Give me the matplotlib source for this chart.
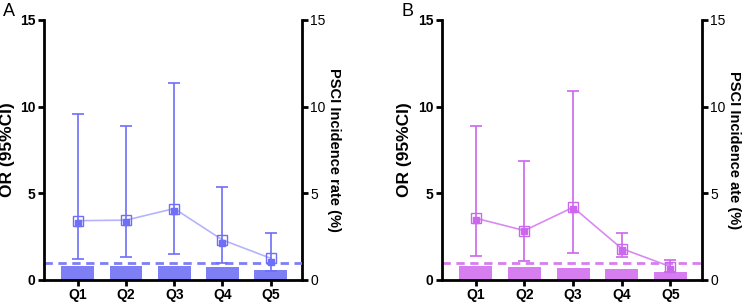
import matplotlib
matplotlib.use('Agg')
import matplotlib.pyplot as plt
import numpy as np

plt.rcParams['font.family'] = ['Liberation Sans', 'DejaVu Sans']

categories = ['Q1', 'Q2', 'Q3', 'Q4', 'Q5']

# panel A
a_or_open = [3.42, 3.45, 4.12, 2.31, 1.25]
a_or_fill = [3.30, 3.35, 4.00, 2.15, 1.06]
a_ci_low = [1.23, 1.31, 1.48, 0.96, 0.54]
a_ci_high = [9.58, 8.88, 11.38, 5.38, 2.69]
a_rate = [0.83, 0.83, 0.82, 0.73, 0.60]

# panel B
b_or_open = [3.56, 2.85, 4.19, 1.81, 0.77]
b_or_fill = [3.46, 2.80, 4.08, 1.70, 0.63]
b_ci_low = [1.40, 1.11, 1.56, 1.33, 0.48]
b_ci_high = [8.87, 6.88, 10.90, 2.69, 1.17]
b_rate = [0.79, 0.77, 0.71, 0.63, 0.46]


def draw_panel(rect, letter, letter_x, or_open, or_fill, lo, hi, rate, col, col_light, col_bar, right_label):
    ax = fig.add_axes(rect)
    x = np.arange(len(categories))
    ax2 = ax.twinx()
    ax2.bar(x, rate, width=0.68, color=col_bar, zorder=1)
    ax2.set_ylim(0, 15)
    ax2.set_yticks([0, 5, 10, 15])
    ax.set_zorder(ax2.get_zorder() + 1)
    ax.patch.set_visible(False)

    ax.axhline(1, color=col_bar, lw=2, ls=(0, (3, 2)), zorder=2)
    ax.plot(x, or_open, color=col_light, lw=1.2, zorder=3)
    yerr = [np.array(or_fill) - np.array(lo), np.array(hi) - np.array(or_fill)]
    ax.errorbar(x, or_fill, yerr=yerr, fmt='none', ecolor=col, elinewidth=1.2,
                capsize=4.5, capthick=1.2, zorder=4)
    ax.plot(x, or_fill, ls='none', marker='s', ms=4.5, color=col, zorder=5)
    ax.plot(x, or_open, ls='none', marker='s', ms=6.5, mfc='none', mec=col, mew=1, zorder=6)

    ax.set_xlim(-0.7, 4.65)
    ax.set_ylim(0, 15)
    ax.set_yticks([0, 5, 10, 15])
    ax.set_xticks(x)
    ax.set_xticklabels(categories, fontsize=10, fontweight='bold')
    for t in ax.get_yticklabels():
        t.set_fontsize(10)
        t.set_fontweight('bold')
    for t in ax2.get_yticklabels():
        t.set_fontsize(10)
    ax.set_ylabel('OR (95%CI)', fontsize=12.5, fontweight='bold', labelpad=4)
    ax2.set_ylabel(right_label, fontsize=10.5, fontweight='bold', rotation=270, labelpad=11)

    for a in (ax, ax2):
        a.spines['top'].set_visible(False)
        for s in ('left', 'right', 'bottom'):
            a.spines[s].set_linewidth(2)
        a.tick_params(width=2, length=4, pad=2)
    ax.spines['right'].set_visible(False)
    ax2.spines['left'].set_visible(False)
    ax2.spines['bottom'].set_visible(False)

    fig.text(letter_x, 0.99, letter, fontsize=13, ha='left', va='top')


fig = plt.figure(figsize=(7.5, 3.02), dpi=100)
draw_panel([0.0587, 0.073, 0.344, 0.861], 'A', 0.004, a_or_open, a_or_fill, a_ci_low, a_ci_high, a_rate,
           '#6e6ef8', '#b4b4fc', '#7f7ff5', 'PSCI Incidence rate (%)')
draw_panel([0.589, 0.073, 0.347, 0.861], 'B', 0.535, b_or_open, b_or_fill, b_ci_low, b_ci_high, b_rate,
           '#cc66ee', '#d98af2', '#d67ef0', 'PSCI Incidence ate (%)')

fig.savefig('out.png', dpi=100)
